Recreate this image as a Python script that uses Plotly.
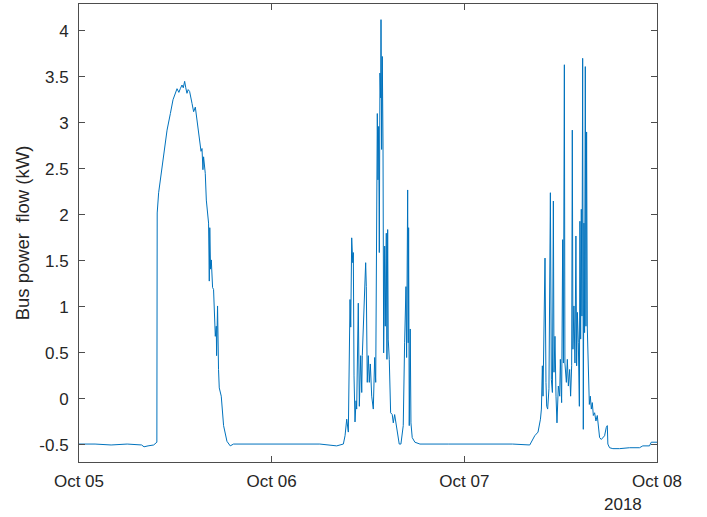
import pandas as pd
import plotly.graph_objects as go

# hours since 2018-10-05 00:00
hours = [
    0.0, 2.0, 4.0, 6.0, 7.8, 8.1, 8.6, 9.3, 9.70,
    9.74, 9.92, 10.13, 10.54, 10.97, 11.38, 11.71, 12.21, 12.44, 12.62, 12.83, 12.99, 13.16, 13.30, 13.45,
    13.60, 13.78, 14.08, 14.28, 14.49, 14.70, 15.02, 15.20, 15.32, 15.44, 15.52, 15.73, 15.86, 15.94, 16.14,
    16.23, 16.29, 16.39, 16.48, 16.64, 16.76, 16.98, 17.10, 17.14, 17.26, 17.38, 17.47, 17.72, 17.81, 18.01,
    18.43, 18.84, 19.25,
    22.0, 26.0, 30.0, 32.1, 32.5, 32.93,
    33.14, 33.35, 33.55, 33.76, 33.85, 33.97, 34.10, 34.17, 34.26, 34.38, 34.51, 34.59, 34.79, 34.92, 35.09,
    35.22, 35.29, 35.42, 35.59, 35.71, 35.79, 35.91, 36.04, 36.16, 36.29, 36.46, 36.66, 36.83, 36.96, 37.08,
    37.16, 37.24, 37.33, 37.41, 37.49, 37.58, 37.62, 37.70, 37.78, 37.87, 37.95, 38.08, 38.15, 38.28, 38.36,
    38.45, 38.52, 38.65, 38.82, 39.02, 39.15, 39.32, 39.48, 39.69, 39.89, 40.10, 40.39, 40.56, 40.73, 40.81,
    40.94, 41.01, 41.06, 41.14, 41.26, 41.35, 41.51, 41.84, 42.47,
    46.0, 50.0, 54.0, 56.15,
    56.77, 57.18, 57.48, 57.60, 57.72, 57.80, 57.89, 58.05, 58.17, 58.26, 58.38, 58.54, 58.72, 58.84, 58.97,
    59.09, 59.17, 59.29, 59.42, 59.54, 59.71, 59.88, 59.96, 60.12, 60.25, 60.34, 60.46, 60.53, 60.71, 60.83,
    60.96, 61.12, 61.24, 61.37, 61.45, 61.53, 61.65, 61.78, 61.90, 61.99, 62.08, 62.20, 62.33, 62.40, 62.49,
    62.57, 62.65, 62.74, 62.82, 62.90, 62.98, 63.07, 63.15, 63.23, 63.32, 63.39, 63.48, 63.57, 63.69, 63.82,
    63.94, 64.07, 64.23, 64.39, 64.56, 64.73, 64.85, 65.06, 65.26, 65.47, 65.68, 65.81, 65.88, 66.09, 66.50,
    67.34, 68.58, 69.82, 70.23, 71.07, 71.28, 72.0,
]

power_kw = [
    -0.49, -0.49, -0.50, -0.49, -0.50, -0.52, -0.51, -0.50, -0.47,
    2.02, 2.24, 2.38, 2.67, 2.92, 3.10, 3.25, 3.37, 3.33, 3.37, 3.41, 3.38, 3.45, 3.38, 3.32,
    3.36, 3.34, 3.21, 3.12, 3.17, 3.03, 2.78, 2.69, 2.72, 2.49, 2.63, 2.45, 2.16, 2.06, 1.91,
    1.28, 1.86, 1.41, 1.51, 1.21, 1.19, 0.68, 0.79, 0.47, 1.01, 0.32, 0.12, 0.03, -0.06, -0.29,
    -0.46, -0.51, -0.49,
    -0.49, -0.49, -0.49, -0.51, -0.50, -0.49,
    -0.40, -0.22, -0.36, 1.08, 0.78, 1.75, 1.48, 1.59, 0.25, -0.25, -0.02, -0.11, 1.04, -0.08, 0.47,
    0.07, 0.47, 0.76, 1.28, 1.48, 1.22, 0.18, 0.47, 0.18, 0.38, 0.03, -0.11, 0.45, 0.18, 1.48,
    3.10, 2.38, 2.96, 1.59, 3.54, 3.27, 4.12, 2.71, 3.72, 2.78, 0.50, 1.66, 0.79, 1.80, 0.43,
    1.84, 0.65, 0.43, -0.15, -0.17, -0.26, -0.17, -0.26, -0.40, -0.49, -0.49, -0.29, 0.61, 1.22, 0.45,
    2.27, 0.61, 1.86, -0.29, 0.76, -0.26, -0.42, -0.47, -0.49,
    -0.49, -0.49, -0.49, -0.50,
    -0.40, -0.36, -0.22, -0.11, 0.36, 0.03, 0.61, 1.53, 0.18, -0.08, -0.11, 0.11, 2.24, 0.21, 0.07,
    2.15, 0.29, 0.68, 0.03, -0.26, 0.14, 0.03, 0.43, -0.04, 1.73, 0.39, 3.63, 0.39, 0.18, 0.43,
    0.14, 0.32, 0.03, 0.36, 2.92, 0.54, 1.01, 0.39, 1.77, 0.36, 0.94, 0.61, -0.08, 1.93, 0.65,
    2.06, 0.90, 3.70, -0.33, 1.91, 0.72, 3.61, 0.79, 2.90, 0.76, 0.54, 0.07, -0.06, 0.03, -0.11,
    -0.04, -0.18, -0.15, -0.24, -0.18, -0.29, -0.42, -0.44, -0.42, -0.40, -0.31, -0.29, -0.49, -0.53, -0.54,
    -0.54, -0.53, -0.53, -0.51, -0.51, -0.47, -0.47,
]

day_ticks = ["2018-10-05", "2018-10-06", "2018-10-07", "2018-10-08"]
day_labels = ["Oct 05", "Oct 06", "Oct 07", "Oct 08"]
y_ticks = [-0.5, 0, 0.5, 1, 1.5, 2, 2.5, 3, 3.5, 4]
y_labels = ["-0.5", "0", "0.5", "1", "1.5", "2", "2.5", "3", "3.5", "4"]
year_label = "2018"

base = pd.Timestamp("2018-10-05")
times = [base + pd.Timedelta(hours=h) for h in hours]

FONT = "Liberation Sans, Arial, sans-serif"
AX = "#4d4d4d"
TXT = "#262626"
FS = 17

fig = go.Figure()
fig.add_trace(go.Scatter(x=times, y=power_kw, mode="lines",
                         line=dict(color="#0072BD", width=1), showlegend=False))

fig.update_layout(
    width=707, height=517,
    margin=dict(l=78.5, r=49.5, t=4, b=55, autoexpand=False),
    paper_bgcolor="white", plot_bgcolor="white",
    font=dict(family=FONT, size=FS, color=TXT),
    xaxis=dict(
        range=[day_ticks[0], day_ticks[-1]],
        tickmode="array", tickvals=day_ticks, ticktext=day_labels,
        ticks="inside", ticklen=6, tickcolor=AX, tickwidth=1,
        showline=True, linecolor=AX, linewidth=1, mirror="ticks",
        showgrid=False, zeroline=False, ticklabelstandoff=4,
        tickfont=dict(family=FONT, size=FS, color=TXT),
    ),
    yaxis=dict(
        range=[-0.685, 4.29],
        tickmode="array", tickvals=y_ticks, ticktext=y_labels,
        ticks="inside", ticklen=6, tickcolor=AX, tickwidth=1,
        showline=True, linecolor=AX, linewidth=1, mirror="ticks",
        showgrid=False, zeroline=False, ticklabelstandoff=6,
        tickfont=dict(family=FONT, size=FS, color=TXT),
        title=dict(text="Bus power\u00a0 flow (kW)", standoff=4,
                   font=dict(family=FONT, size=18.5, color=TXT)),
    ),
    annotations=[dict(text=year_label, xref="paper", yref="paper",
                      x=0.942, y=-0.093, xanchor="center", yanchor="middle",
                      showarrow=False, font=dict(family=FONT, size=FS, color=TXT))],
)

fig.write_html("out.html", config={"displayModeBar": False},
               post_script="document.body.style.margin='0';")
